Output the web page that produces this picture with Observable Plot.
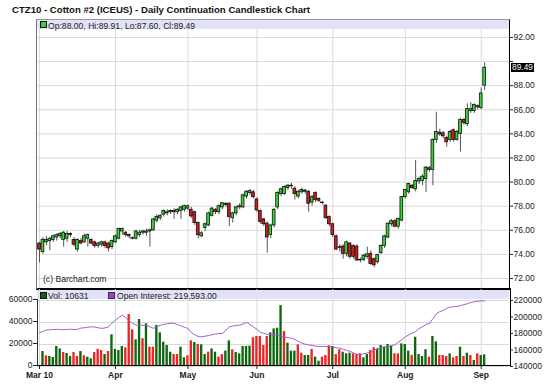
<!DOCTYPE html>
<html><head><meta charset="utf-8">
<script src="https://cdn.jsdelivr.net/npm/d3@7"></script>
<script src="https://cdn.jsdelivr.net/npm/@observablehq/plot@0.6"></script>
<style>
body{margin:0;background:#fff;font-family:"Liberation Sans",Arial,sans-serif;}
#root{position:relative;width:550px;height:386px;overflow:hidden;background:#fff;}
.abs{position:absolute;white-space:nowrap;line-height:1;}
svg.plt{position:absolute;left:0;}
svg.bot [aria-label="x-axis tick label"] text{font-weight:bold;}
</style></head><body><div id="root"></div>
<script>
// ---- data (trading days from 2 Mar 2010 to 2 Sep 2010) ----
const open = [74.9,74.2,75.0,75.1,75.2,75.4,75.5,75.2,75.3,75.7, 75.2,74.4,75.1,75.0,75.3,75.2,75.0,74.7,74.8,75.0,
 74.9,74.6,75.0,75.3,75.9,75.8,75.6,75.35,75.3,75.6, 75.8,75.8,75.9,76.0,76.8,77.0,77.3,77.4,77.6,77.5,
 77.5,77.6,77.7,77.8,77.7,77.5,76.6,75.5,76.2,76.4, 77.2,77.7,77.5,77.9,78.2,78.2,77.0,77.4,77.9,77.9,
 78.8,79.1,79.15,78.55,77.6,76.9,76.55,75.6,76.4,77.9, 79.0,79.0,79.5,79.7,79.45,78.8,79.15,79.3,79.2,78.3,
 79.1,78.6,78.3,78.05,77.1,76.5,75.5,74.6,74.65,74.05, 74.9,74.7,74.65,73.5,73.55,73.8,74.05,73.6,73.35,74.1,
 74.7,75.4,76.5,76.75,76.3,76.8,78.75,79.15,79.7,79.4, 80.05,80.1,80.25,81.15,81.0,83.5,84.1,84.05,83.65,83.5,
 84.3,83.5,84.0,85.15,84.8,85.9,85.9,86.3,86.15,88.0];
const high = [75.0,75.4,75.5,75.4,75.6,75.7,75.8,75.9,75.9,75.8, 75.4,75.3,75.3,75.7,75.7,75.3,75.1,75.0,75.1,75.1,
 75.0,75.2,75.6,76.2,76.2,75.9,75.7,75.45,76.0,76.0, 76.0,76.1,76.1,77.0,77.3,77.3,77.7,77.7,77.7,77.8,
 77.8,78.0,78.1,78.1,77.9,77.6,76.7,75.9,76.6,77.5, 77.9,77.8,78.1,78.3,78.3,78.3,77.5,78.0,78.2,79.0,
 79.3,79.4,79.3,78.7,77.7,77.0,76.7,76.5,77.8,79.2, 79.5,79.7,79.8,79.9,79.6,79.3,79.5,79.4,79.3,78.9,
 79.2,78.7,78.4,78.1,77.2,76.6,75.6,74.8,74.8,75.1, 75.0,74.8,74.8,73.7,74.0,74.6,74.3,73.7,74.0,74.8,
 75.6,76.6,76.9,76.9,77.0,78.8,79.4,79.9,79.8,81.8, 80.4,80.6,81.3,81.3,83.6,85.8,84.4,84.2,83.8,84.3,
 84.4,84.3,85.3,85.3,86.5,86.6,86.5,86.4,87.8,89.91];
const low = [73.3,74.0,74.7,74.3,75.0,75.1,75.3,74.6,75.0,75.4, 74.6,74.2,74.8,74.9,74.6,74.8,74.5,74.5,74.6,74.5,
 74.2,74.4,74.9,75.2,75.6,75.4,75.3,75.2,75.2,75.4, 75.6,75.5,74.6,75.9,76.6,76.8,77.1,77.2,77.3,76.9,
 77.3,76.9,77.5,77.6,77.0,76.4,75.3,75.4,75.9,76.3, 77.1,77.3,77.3,77.7,77.9,76.3,76.6,77.2,77.7,77.8,
 78.6,78.9,78.6,77.5,76.5,76.3,74.1,75.3,76.2,77.7, 78.8,78.9,79.3,79.4,78.5,78.6,79.0,79.0,77.5,78.0,
 78.3,78.3,78.1,76.9,76.3,75.4,74.3,74.2,73.6,73.8, 73.6,73.6,73.4,73.3,73.4,73.6,73.1,72.9,73.2,74.0,
 74.5,75.3,76.3,76.2,76.1,76.7,78.6,79.0,79.4,79.2, 79.8,79.7,79.15,80.8,79.7,83.2,83.8,83.6,82.9,83.3,
 83.3,83.4,82.5,84.7,84.6,85.7,85.7,86.0,86.0,87.6];
const close = [74.4,75.2,75.2,75.3,75.5,75.6,75.7,75.8,75.7,75.6, 74.8,75.2,74.9,75.5,75.6,74.9,74.7,74.9,75.0,74.7,
 74.5,75.1,75.5,76.1,76.1,75.6,75.5,75.3,75.9,75.8, 75.9,75.9,76.0,76.9,77.1,77.2,77.6,77.5,77.5,77.6,
 77.7,77.9,78.0,78.0,77.15,76.6,75.6,75.75,76.5,77.4, 77.8,77.5,78.0,78.25,78.1,77.1,77.4,77.9,78.0,78.9,
 79.2,79.25,78.75,77.65,76.7,76.5,75.4,76.4,77.7,79.1, 79.4,79.6,79.7,79.65,79.0,79.2,79.35,79.2,78.2,78.75,
 78.5,78.45,78.25,77.0,76.5,75.6,74.4,74.55,74.05,75.0, 73.8,73.8,73.5,73.55,73.9,74.0,73.2,73.1,73.95,74.7,
 75.5,76.55,76.75,76.3,76.95,78.75,79.35,79.85,79.5,80.1, 80.25,80.45,81.2,81.0,83.5,84.15,83.95,83.8,83.3,84.15,
 83.5,84.15,85.15,84.9,86.05,86.05,86.4,86.2,87.35,89.49];
const volume = [null,
 13600,9700,9100,8200,18200,16000,12700,11800,9100,12700, 9100,13600,9700,8500,7000,12700,15500,14500,10900,13600,
 28800,15500,14500,18200,17000,47300,33300,24200,42700,25200, 38800,17600,17600,37300,30600,22100,19100,13000,10900,10900,
 17600,7900,9700,23300,21800,20000,19700,10900,13000,16000, 13000,8500,10900,14000,23300,15200,12700,11500,18200,18200,
 18500,26100,27300,27300,19100,27300,30600,34200,34800,55400, 31800,21200,14000,14000,19700,
 12100,10000,10000,15500,8500,4800,8500,10000,18800,18200, 10900,15200,13000,11500,12100,11500,10900,11500,7900,10900,
 14500,17000,16000,19100,17600,20000,18200,11500,11500,20600, 20000,14000,10000,26600,10900,9100,15200,8500,27300,22400,
 10000,10000,9100,11500,7900,9100,17600,9100,12100,10000, 5500,11500,10000,10631];
const volumeUp = [null,
 1,0,1,1,1,1,0,1,1,0, 0,1,0,1,1,0,0,0,1,0, 1,1,1,1,0,0,0,1,1,0, 1,0,0,1,1,1,1,1,0,0,
 1,1,0,0,1,0,1,1,0,1, 1,0,0,1,1,0,1,1,1,1, 1,0,0,0,0,0,1,1,1,1, 0,1,1,1,0,
 0,1,1,0,1,1,0,0,0,1, 0,0,1,1,1,0,0,0,1,1, 0,0,1,1,1,1,1,0,0,1, 1,1,0,1,1,1,1,0,1,1,
 0,0,0,1,0,0,1,0,1,0, 1,0,1,1];
const openInterest = [181000,182500,184200,184500,184800,185000,185000,184600,185000,185200,
 184800,185000,186500,187000,187600,188100,187800,187000,186200,186800,
 188100,192500,196100,199500,202100,199300,195000,192200,190100,190300,
 189800,190100,188000,186200,188500,190000,191000,191800,192500,192200,
 190800,189300,187500,186200,181000,178500,176200,176000,176800,177500,
 178500,179400,179800,180000,184000,188100,189000,189800,190100,191500,
 193400,191000,188100,185000,181400,180200,179000,178800,178500,178200,
 176800,176000,175000,174300,172800,170500,168300,167000,166300,165500,
 164800,164200,164400,164200,164200,163500,162800,162300,161000,159500,
 158300,156500,154800,154300,155500,156400,158000,160000,161500,162800,
 163800,164200,165500,166300,169500,172200,176000,178200,180500,182200,
 186000,188100,191000,192200,198000,204100,206500,208100,210500,212000,
 212500,212800,213800,215000,216100,217500,218500,219200,219400,219593];
const monthLabels = ["Mar 10","Apr","May","Jun","Jul","Aug","Sep"];
const monthStartDay = [0,22,43,63,85,106,128];
const priceTicks = [72,74,76,78,80,82,84,86,88,90,92];
const volumeTicks = [0,20000,40000,60000];
const oiTicks = [140000,160000,180000,200000,220000];

// ---- layout ----
const W = 550, ML = 37, MR = 41;
const xDomain = [-0.58, 136.2];
const FONT = '"Liberation Sans", Arial, sans-serif';
const root = document.getElementById("root");
const candles = open.map((o, i) => ({i, open: o, high: high[i], low: low[i], close: close[i]}));
const last = candles[candles.length - 1];
const bars = volume.map((v, i) => ({i, v, up: volumeUp[i], oi: openInterest[i]}));

function addDiv(css, html) {
  const d = document.createElement("div");
  d.className = "abs";
  d.style.cssText = css;
  if (html != null) d.innerHTML = html;
  root.appendChild(d);
  return d;
}

// title
addDiv(`left:12px;top:4px;font:bold 9.6px ${FONT};color:#111;`, "CTZ10 - Cotton #2 (ICEUS) - Daily Continuation Candlestick Chart");

// ---- price panel ----
const TOPY = 19;
const topPlot = Plot.plot({
  width: W, height: 270, marginLeft: ML, marginRight: MR, marginTop: 10, marginBottom: 1,
  x: {domain: xDomain, axis: null},
  y: {domain: [71.17, 92.66]},
  style: {fontFamily: FONT, fontSize: "8.5px", color: "#222", background: "transparent", overflow: "visible"},
  marks: [
    Plot.ruleY(priceTicks, {stroke: "#dadada", strokeWidth: 1}),
    Plot.ruleX(monthStartDay, {stroke: "#dadada", strokeWidth: 1}),
    Plot.ruleX(candles, {x: "i", y1: "low", y2: "high", stroke: "#555", strokeWidth: 1}),
    Plot.rect(candles, {x1: d => d.i - 0.4, x2: d => d.i + 0.4, y1: "open", y2: "close",
      fill: d => d.close >= d.open ? "#35d435" : "#d41a1a", stroke: "#111", strokeWidth: 0.8}),
    Plot.axisY({anchor: "right", label: null, ticks: priceTicks, tickSize: 3, tickPadding: 1,
      tickFormat: d => Math.abs(d - last.close) < 1 ? "" : d.toFixed(2)})
  ]
});
topPlot.classList.add("plt");
topPlot.style.top = TOPY + "px";
root.appendChild(topPlot);

// frame of price panel
addDiv(`left:36px;top:19px;width:472px;height:268px;border-left:1.5px solid #777;border-top:1px solid #999;border-right:1px solid #000;border-bottom:2px solid #000;`);
// legend band
addDiv(`left:37px;top:20px;width:472px;height:9px;background:#e1e1f8;`);
addDiv(`left:40px;top:21px;width:5px;height:5px;background:#35d435;border:1px solid #111;`);
addDiv(`left:48px;top:20.5px;font:8.6px ${FONT};color:#222;`,
  `Op:${last.open.toFixed(2)}, Hi:${last.high.toFixed(2)}, Lo:${last.low.toFixed(2)}, Cl:${last.close.toFixed(2)}`);
addDiv(`left:43px;top:274px;font:8.6px ${FONT};color:#222;`, "(c) Barchart.com");
// last price tag
const yLast = TOPY + topPlot.scale("y").apply(last.close);
addDiv(`left:511px;top:${yLast - 4.5}px;width:23px;height:9px;background:#000;color:#fff;font:8.3px ${FONT};text-align:center;line-height:9px;`, last.close.toFixed(2));

// ---- volume / open interest panel ----
const BOTY = 289;
const volMax = 70000, oiMin = 140000, oiMax = 233333;
const oiToY = v => (v - oiMin) / (oiMax - oiMin) * volMax;
const botPlot = Plot.plot({
  width: W, height: 97, marginLeft: ML, marginRight: MR, marginTop: 0, marginBottom: 20,
  x: {domain: xDomain},
  y: {domain: [0, volMax]},
  style: {fontFamily: FONT, fontSize: "8.5px", color: "#222", background: "transparent", overflow: "visible"},
  marks: [
    Plot.ruleY(volumeTicks, {stroke: "#dadada", strokeWidth: 1}),
    Plot.ruleX(monthStartDay, {stroke: "#dadada", strokeWidth: 1}),
    Plot.rect(bars.filter(d => d.v != null), {x1: d => d.i - 0.34, x2: d => d.i + 0.34, y1: 0, y2: "v",
      fill: d => d.up ? "#0f660f" : "#ec2424"}),
    Plot.line(bars, {x: "i", y: d => oiToY(d.oi), stroke: "#a060d0", strokeWidth: 1}),
    Plot.axisY({anchor: "left", label: null, ticks: volumeTicks, tickSize: 4, tickPadding: 1, dy: -1, tickFormat: d => String(d)}),
    Plot.axisY({anchor: "right", label: null, ticks: oiTicks.map(oiToY), tickSize: 3, tickPadding: 1,
      tickFormat: d => String(Math.round((d / volMax * (oiMax - oiMin) + oiMin) / 1000) * 1000)}),
    Plot.axisX({label: null, ticks: monthStartDay, tickSize: 3, tickPadding: 2, fontWeight: "bold",
      tickFormat: d => monthLabels[monthStartDay.indexOf(d)]})
  ]
});
botPlot.classList.add("plt", "bot");
botPlot.style.top = BOTY + "px";
root.appendChild(botPlot);
addDiv(`left:36.5px;top:288px;width:472px;height:77px;border-left:1px solid #333;border-right:1px solid #000;border-bottom:1px solid #000;`);
addDiv(`left:37px;top:290px;width:472px;height:9px;background:#e1e1f8;`);
addDiv(`left:40px;top:291.5px;width:5px;height:5px;background:#0f660f;border:1px solid #111;`);
addDiv(`left:48px;top:290.5px;font:8.6px ${FONT};color:#222;`, `Vol: ${volume[volume.length - 1]}`);
addDiv(`left:108px;top:291.5px;width:5px;height:5px;background:#9a40d8;border:1px solid #333;`);
addDiv(`left:117px;top:290.5px;font:8.6px ${FONT};color:#222;`,
  `Open Interest: ${d3.format(",.2f")(openInterest[openInterest.length - 1])}`);
</script></body></html>
